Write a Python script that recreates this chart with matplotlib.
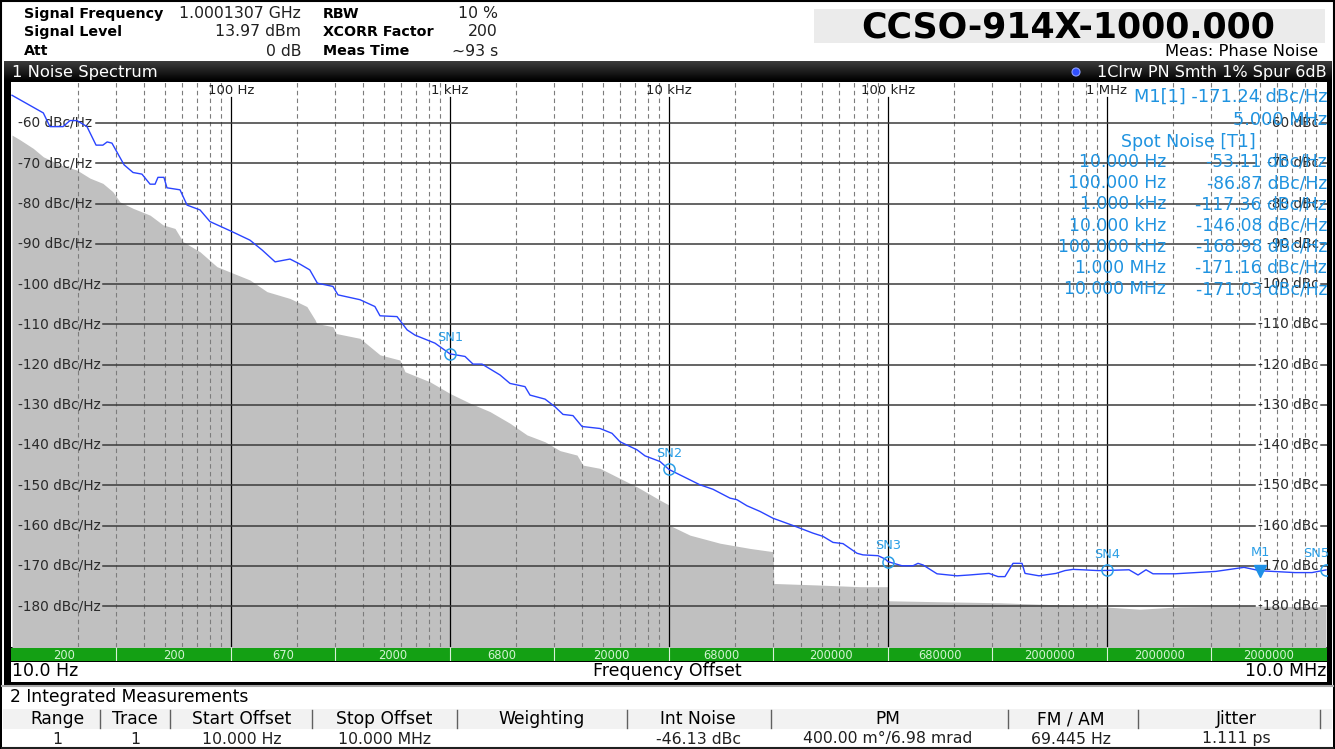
import numpy as np
import matplotlib
matplotlib.use("Agg")
import matplotlib.pyplot as plt
from matplotlib.patches import Rectangle, Circle
from matplotlib.colors import LinearSegmentedColormap

plt.rcParams['font.family'] = ['DejaVu Sans']

# ---------------- data ----------------
trace_freq = [10, 13.9, 14.9, 17.1, 18.4, 19.8, 22.0, 24.2, 26.0, 27.2, 28.6, 32.5, 35.7, 39.2,
              42.7, 45.0, 46.4, 49.4, 51.0, 58.5, 63.0, 72.2, 80.2, 100, 122, 139, 159, 186,
              207, 229, 248, 292, 308, 388, 454, 479, 573, 637, 692, 854, 1000, 1171, 1274,
              1400, 1692, 1879, 2200, 2319, 2716, 3016, 3281, 3644, 4006, 4841, 5493, 5975,
              7145, 7771, 9097, 10000, 13860, 15880, 18990, 20440, 22700, 26030, 29850,
              36830, 45450, 50480, 56090, 62300, 72190, 76880, 90000, 96900, 1e5, 115800,
              130100, 137100, 144500, 167400, 206600, 234400, 289200, 317900, 342100,
              372200, 409200, 422300, 489300, 585100, 643000, 699300, 768900, 909700, 1e6,
              1.261e6, 1.386e6, 1.507e6, 1.622e6, 2.044e6, 3.146e6, 4.223e6, 5e6, 7.218e6,
              8.632e6, 1e7]
trace_db = [-53.11, -57.5, -60.9, -60.9, -59.4, -59.4, -60.9, -65.5, -65.5, -64.7, -65.0, -70.4,
            -72.3, -72.7, -75.2, -75.2, -73.5, -73.5, -76.1, -76.6, -80.4, -81.6, -84.5, -86.87,
            -89.1, -91.6, -94.5, -93.8, -95.1, -96.5, -99.8, -100.6, -102.7, -103.9, -105.6,
            -107.9, -108.1, -111.4, -112.7, -114.7, -117.36, -118.0, -119.9, -119.9, -122.6,
            -124.7, -125.5, -127.6, -128.6, -130.5, -132.4, -132.7, -135.4, -135.9, -137.1,
            -139.2, -141.2, -142.7, -144.1, -146.08, -149.9, -151.0, -153.2, -153.6, -155.1,
            -156.5, -158.2, -160.0, -161.9, -162.7, -164.2, -164.5, -166.9, -167.3, -167.5,
            -168.3, -168.98, -170.0, -170.0, -169.4, -169.8, -172.0, -172.5, -172.3, -171.9,
            -172.7, -172.7, -169.4, -169.4, -171.9, -172.5, -171.9, -171.2, -170.9, -171.0,
            -171.2, -171.16, -171.0, -172.3, -171.0, -172.0, -172.0, -171.4, -170.4, -171.24,
            -171.7, -171.7, -171.03]

floor_freq = [10, 10.9, 12.5, 13.9, 16.6, 19.8, 22.7, 26.0, 28.9, 31.1, 35.7, 42.7, 48.9, 55.5,
              60.4, 72.2, 86.3, 102, 122, 146, 186, 207, 222, 242, 246, 292, 302, 388, 479,
              591, 623, 810, 1000, 1234, 1522, 1879, 2247, 2716, 3178, 3801, 4048, 4841, 5975,
              7145, 9097, 9990, 10010, 12470, 17100, 23440, 29850, 30100, 48920, 74520, 99700,
              100300, 155600, 324800, 836500, 1.415e6, 2.154e6, 4.266e6, 1e7]
floor_db = [-63.0, -64.2, -66.3, -68.4, -70.4, -71.7, -73.7, -75.0, -77.1, -79.6, -81.2, -82.9,
            -85.3, -86.2, -89.5, -92.0, -95.7, -97.3, -99.0, -101.9, -103.6, -104.8, -105.6,
            -108.9, -109.8, -110.6, -112.3, -113.5, -117.6, -118.9, -121.8, -124.3, -127.2,
            -129.6, -131.7, -134.6, -137.5, -139.2, -141.4, -142.5, -145.0, -145.8, -148.3,
            -150.4, -153.7, -154.9, -159.9, -162.4, -164.4, -165.7, -166.5, -174.4, -174.8,
            -175.2, -175.2, -178.7, -178.9, -179.2, -180.0, -180.8, -180.2, -180.0, -180.2]

spot_names = ['SN1', 'SN2', 'SN3', 'SN4', 'SN5']
spot_freq = [1e3, 1e4, 1e5, 1e6, 1e7]
spot_db = [-117.36, -146.08, -168.98, -171.16, -171.03]

table_freq_labels = ['10.000 Hz', '100.000 Hz', '1.000 kHz', '10.000 kHz', '100.000 kHz',
                     '1.000 MHz', '10.000 MHz']
table_values = [-53.11, -86.87, -117.36, -146.08, -168.98, -171.16, -171.03]

m1_freq = 5e6
m1_db = -171.24

decades = [100, 1e3, 1e4, 1e5, 1e6]
decade_labels = ['100 Hz', '1 kHz', '10 kHz', '100 kHz', '1 MHz']
level_lines = list(range(-60, -190, -10))

segment_edges = [10, 30, 100, 300, 1e3, 3e3, 1e4, 3e4, 1e5, 3e5, 1e6, 3e6, 1e7]
segment_labels = ['200', '200', '670', '2000', '6800', '20000', '68000', '200000', '680000',
                  '2000000', '2000000', '2000000']

header_left = [('Signal Frequency', '1.0001307 GHz'), ('Signal Level', '13.97 dBm'), ('Att', '0 dB')]
header_mid = [('RBW', '10 %'), ('XCORR Factor', '200'), ('Meas Time', '~93 s')]

col_headers = ['Range', 'Trace', 'Start Offset', 'Stop Offset', 'Weighting', 'Int Noise', 'PM',
               'FM / AM', 'Jitter']
col_values = ['1', '1', '10.000 Hz', '10.000 MHz', '', '-46.13 dBc', '400.00 m°/6.98 mrad',
              '69.445 Hz', '1.111 ps']
col_centers = [57, 135, 242, 384, 542, 698, 888, 1071, 1236]
col_seps = [100, 170, 312, 457, 627, 771, 1008, 1138, 1320]

# ---------------- figure ----------------
W, H = 1335, 749
fig = plt.figure(figsize=(W / 100, H / 100), dpi=100)
fig.patch.set_facecolor('white')

bg = fig.add_axes([0, 0, 1, 1], zorder=0)
bg.set_xlim(0, W); bg.set_ylim(H, 0); bg.axis('off')

# outer frame
bg.add_patch(Rectangle((1, 1), W - 2, H - 2, fill=False, edgecolor='black', lw=1.5))
# plot window frame
bg.add_patch(Rectangle((4, 61), 1328, 624, facecolor='black', edgecolor='none'))
grad = LinearSegmentedColormap.from_list('g', ['#3c3c3c', '#000000'])
bg.imshow(np.linspace(0, 1, 30)[:, None], extent=(4, 1332, 81, 61), cmap=grad, aspect='auto',
          zorder=1)
bg.set_xlim(0, W); bg.set_ylim(H, 0)
bg.add_patch(Rectangle((11, 662), 1316, 20, facecolor='white', edgecolor='none', zorder=2))
# title box
bg.add_patch(Rectangle((814, 9), 511, 34, facecolor='#ebebeb', edgecolor='none'))
# bottom panel
bg.add_patch(Rectangle((2, 685), W - 4, 63, facecolor='white', edgecolor='none', zorder=2))
bg.plot([2, W - 2], [686, 686], color='#a8a8a8', lw=1.5, zorder=3)
bg.add_patch(Rectangle((3, 709), W - 6, 20, facecolor='#f2f2f2', edgecolor='none', zorder=3))
bg.plot([2, W - 2], [747.5, 747.5], color='#202020', lw=1.5, zorder=3)

# ---------------- main plot ----------------
x_left, x_right, y_top, y_bot = 11, 1327, 82, 647
ax = fig.add_axes([x_left / W, 1 - y_bot / H, (x_right - x_left) / W, (y_bot - y_top) / H], zorder=1)
ax.set_xscale('log')
ax.set_xlim(10 ** (1 - 1 / 219), 10 ** (7 + 1 / 219))
ax.set_ylim(-60 - (y_bot - 123) / 4.025, -60 + (123 - y_top) / 4.025)
ax.set_facecolor('white')
ax.set_xticks([]); ax.set_yticks([])
ax.minorticks_off()
for s in ax.spines.values():
    s.set_visible(False)

ax.fill_between(floor_freq, floor_db, -200, color='#c0c0c0', lw=0, zorder=1)

# minor dashed grid
for d in [10, 100, 1e3, 1e4, 1e5, 1e6]:
    for m in range(2, 10):
        ax.axvline(m * d, color='#7c7c7c', lw=0.8, ls=(0, (4, 3)), zorder=2)
# decade lines
top_frac = (y_bot - 97) / (y_bot - y_top)
for d, lab in zip(decades, decade_labels):
    ax.axvline(d, ymin=0, ymax=top_frac, color='black', lw=0.9, zorder=2)
    ax.text(d, (y_bot - 90) / (y_bot - y_top), lab, transform=ax.get_xaxis_transform(),
            ha='center', va='center', fontsize=9.5, color='#202020', zorder=3)

# level lines + labels
pw = x_right - x_left
for v in level_lines:
    lab_end = 96 if v > -100 else 103
    ax.axhline(v, xmin=(lab_end - x_left) / pw, xmax=(1255 - x_left) / pw, color='#3a3a3a',
               lw=1.1, zorder=2)
    ax.axhline(v, xmin=(1321 - x_left) / pw, xmax=1, color='#3a3a3a', lw=1.1, zorder=2)
    ax.text((18 - x_left) / pw, v, f'{v} dBc/Hz', transform=ax.get_yaxis_transform(),
            ha='left', va='center', fontsize=9.8, color='#2a2a2a', zorder=3)
    ax.text((1319 - x_left) / pw, v, f'{v} dBc', transform=ax.get_yaxis_transform(),
            ha='right', va='center', fontsize=9.8, color='#2a2a2a', zorder=3)

# trace
ax.plot(trace_freq, trace_db, color='#2a44ff', lw=1.0, zorder=4)

# spot noise markers
mk_col = '#2a9ee6'
ax.plot(spot_freq, spot_db, 'o', mfc='none', mec=mk_col, ms=8, mew=1.1, zorder=5)
for name, f, v in zip(spot_names, spot_freq, spot_db):
    dx = -7 if name == 'SN5' else 0
    ax.annotate(name, (f, v), xytext=(dx, 11.5), textcoords='offset points', ha='center',
                va='center', fontsize=9.3, color=mk_col, zorder=6, annotation_clip=False)

# M1 marker
ax.plot([m1_freq], [m1_db], 'v', color='#1e90e6', ms=8, zorder=6)
ax.annotate('M1', (m1_freq, m1_db), xytext=(0, 13), textcoords='offset points', ha='center',
            va='center', fontsize=9.3, color=mk_col, zorder=6)

# ---------------- green segment bar ----------------
axg = fig.add_axes([x_left / W, 1 - 661 / H, pw / W, 13 / H], zorder=1)
axg.set_xscale('log')
axg.set_xlim(ax.get_xlim()); axg.set_ylim(0, 1)
axg.set_facecolor('#14a014')
axg.set_xticks([]); axg.set_yticks([]); axg.minorticks_off()
for s in axg.spines.values():
    s.set_visible(False)
for e in segment_edges[1:-1]:
    axg.axvline(e, color='#d8f0d8', lw=0.8)
for a, b, lab in zip(segment_edges[:-1], segment_edges[1:], segment_labels):
    axg.text(np.sqrt(a * b), 0.45, lab, ha='center', va='center', fontsize=8.3, color='#d2f2d2')

# ---------------- overlay texts ----------------
ov = fig.add_axes([0, 0, 1, 1], zorder=10)
ov.set_xlim(0, W); ov.set_ylim(H, 0); ov.axis('off'); ov.patch.set_alpha(0)

rows_y = [14, 32, 51]
for (k, v), y in zip(header_left, rows_y):
    ov.text(24, y, k, ha='left', va='center', fontsize=10.3, fontweight='bold', color='black')
    ov.text(301, y, v, ha='right', va='center', fontsize=11.3, color='#202020')
for (k, v), y in zip(header_mid, rows_y):
    ov.text(323, y, k, ha='left', va='center', fontsize=10.3, fontweight='bold', color='black')
    ov.text(498, y, v, ha='right', va='center', fontsize=11.3, color='#202020')

ov.text(1068, 27, 'CCSO-914X-1000.000', ha='center', va='center', fontsize=25,
        fontweight='heavy', color='black')
ov.text(1318, 51, 'Meas: Phase Noise', ha='right', va='center', fontsize=11.8, color='black')

ov.text(12, 72, '1 Noise Spectrum', ha='left', va='center', fontsize=11.8, color='white')
ov.add_patch(Circle((1076, 72), 4, facecolor='#3050ff', edgecolor='#8fa0ff', lw=0.8))
ov.text(1327, 72, '1Clrw PN Smth 1% Spur 6dB', ha='right', va='center', fontsize=11.5,
        color='white')

# marker info
info_col = '#1f93e0'
ov.text(1327, 97, f'M1[1] {m1_db:.2f} dBc/Hz', ha='right', va='center', fontsize=12.8,
        color=info_col)
ov.text(1327, 120, f'{m1_freq / 1e6:.3f} MHz', ha='right', va='center', fontsize=12.8,
        color=info_col)
ov.text(1188, 142, 'Spot Noise [T1]', ha='center', va='center', fontsize=12.5, color=info_col)
for i, (fl, val) in enumerate(zip(table_freq_labels, table_values)):
    y = 162 + i * 21.2
    ov.text(1166, y, fl, ha='right', va='center', fontsize=12.3, color=info_col)
    ov.text(1327, y, f'{val:.2f} dBc/Hz', ha='right', va='center', fontsize=12.3, color=info_col)

# x axis strip
ov.text(12, 671, '10.0 Hz', ha='left', va='center', fontsize=12.5, color='black')
ov.text(667, 671, 'Frequency Offset', ha='center', va='center', fontsize=12.5, color='black')
ov.text(1326, 671, '10.0 MHz', ha='right', va='center', fontsize=12.5, color='black')

# integrated measurements table
ov.text(10, 697, '2 Integrated Measurements', ha='left', va='center', fontsize=12.3, color='black')
for c, h, v in zip(col_centers, col_headers, col_values):
    ov.text(c, 719, h, ha='center', va='center', fontsize=12.3, color='black')
    ov.text(c, 739, v, ha='center', va='center', fontsize=11.3, color='#202020')
for sx in col_seps:
    ov.plot([sx, sx], [710, 728], color='#606060', lw=1.0)

fig.savefig('out.png', dpi=100, facecolor='white')
